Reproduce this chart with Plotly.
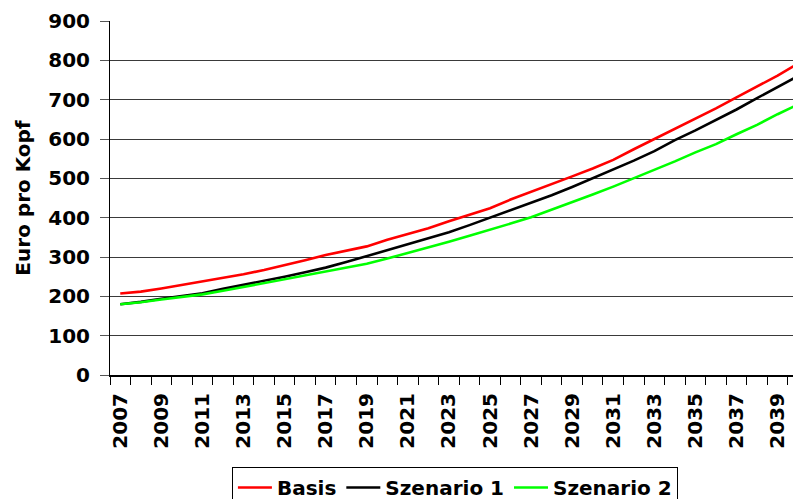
import plotly.graph_objects as go

years = list(range(2007, 2041))
basis = [207, 212, 220, 229, 238, 247, 256, 267, 279, 292, 305, 316, 327, 344, 358, 373,
         391, 407, 424, 446, 465, 484, 505, 525, 547, 574, 600, 625, 651, 678, 706, 733, 761, 792]
szenario1 = [180, 186, 194, 201, 208, 219, 229, 239, 250, 261, 273, 287, 302, 317, 332, 348,
             363, 381, 400, 418, 437, 457, 478, 500, 522, 545, 569, 597, 622, 648, 675, 704, 733, 760]
szenario2 = [180, 185, 192, 198, 205, 214, 224, 234, 244, 254, 264, 273, 283, 296, 310, 325,
             339, 354, 369, 385, 401, 420, 439, 459, 479, 500, 521, 543, 566, 587, 612, 636, 663, 688]
series_names = ["Basis", "Szenario 1", "Szenario 2"]
series_colors = ["#ff0000", "#000000", "#00ff00"]
tick_years = list(range(2007, 2041, 2))
y_ticks = list(range(0, 901, 100))

FONT = "DejaVu Sans"

fig = go.Figure()
for name, vals, col in zip(series_names, [basis, szenario1, szenario2], series_colors):
    fig.add_trace(go.Scatter(x=years, y=vals, mode="lines", name=name,
                             line=dict(color=col, width=2.6)))

fig.update_layout(
    width=793, height=499,
    margin=dict(l=110, r=0, t=21, b=124, pad=0),
    paper_bgcolor="white", plot_bgcolor="white",
    font=dict(family=FONT, size=20, color="black", weight="bold"),
    showlegend=True,
    legend=dict(orientation="h", x=0.505, xanchor="center",
                yref="container", y=0.064, yanchor="top",
                bordercolor="black", borderwidth=1, bgcolor="white",
                font=dict(family=FONT, size=20, color="black", weight="bold"),
                itemwidth=34, tracegroupgap=0),
)

fig.update_xaxes(
    range=[2006.5, 2039.75], automargin=False,
    tickmode="array", tickvals=tick_years, ticktext=[str(y) for y in tick_years],
    tickangle=-90, ticks="", showgrid=False, zeroline=False,
    showline=True, linecolor="black", linewidth=2,
    tickfont=dict(family=FONT, size=20, color="black", weight="bold"),
    ticklabelstandoff=8,
    minor=dict(ticks="outside", ticklen=8, tickcolor="black", tickwidth=1,
               tick0=2006.5, dtick=1, showgrid=False),
)
fig.update_yaxes(
    range=[0, 900], tickmode="array", tickvals=y_ticks, automargin=False,
    ticks="outside", ticklen=9, tickcolor="#555555", tickwidth=1,
    showgrid=True, gridcolor="#3a3a3a", gridwidth=1, zeroline=False,
    showline=True, linecolor="black", linewidth=1,
    tickfont=dict(family=FONT, size=20, color="black", weight="bold"),
    ticklabelstandoff=6,
    title=dict(text="Euro pro Kopf", standoff=12,
               font=dict(family=FONT, size=20, color="black", weight="bold")),
)

fig.write_html("out.html", config={"displayModeBar": False},
               post_script="document.body.style.margin='0';document.body.style.overflow='hidden';")
